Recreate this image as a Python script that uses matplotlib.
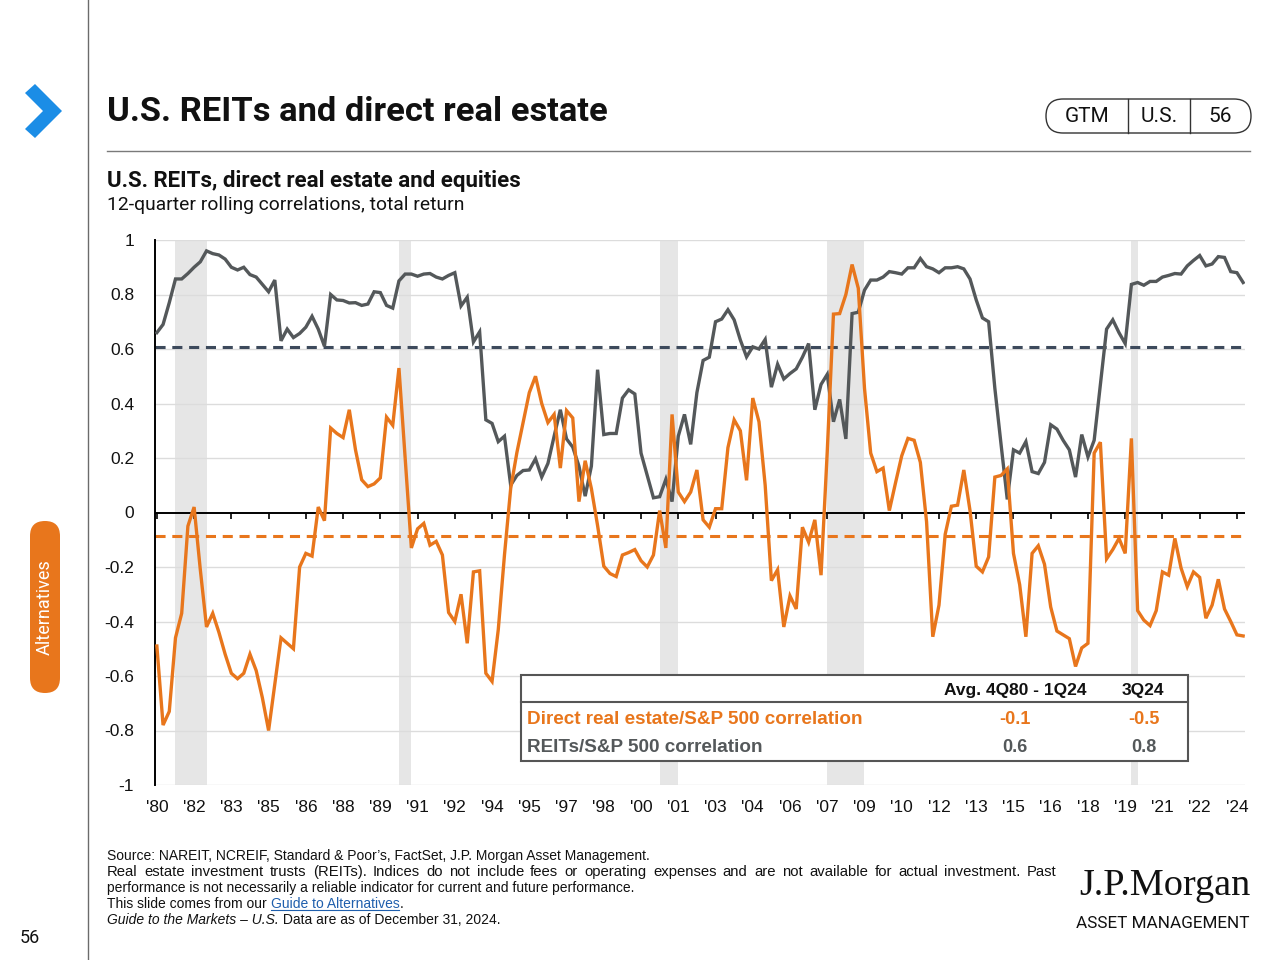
import matplotlib
matplotlib.use("Agg")
import matplotlib.pyplot as plt
from matplotlib.patches import FancyBboxPatch, Rectangle, Polygon
import numpy as np

# ---------------- data ----------------
start_label = "4Q80"
tick_labels = ["'80", "'82", "'83", "'85", "'86", "'88", "'89", "'91", "'92", "'94",
               "'95", "'97", "'98", "'00", "'01", "'03", "'04", "'06", "'07", "'09",
               "'10", "'12", "'13", "'15", "'16", "'18", "'19", "'21", "'22", "'24"]
tick_step = 6  # quarters between labels

reits_sp500 = [
    0.66, 0.69, 0.77, 0.857, 0.857, 0.877, 0.90, 0.92, 0.96, 0.95,
    0.945, 0.93, 0.90, 0.89, 0.90, 0.873, 0.864, 0.837, 0.81, 0.853,
    0.63, 0.673, 0.642, 0.657, 0.68, 0.72, 0.673, 0.61, 0.80, 0.78,
    0.778, 0.769, 0.77, 0.76, 0.765, 0.81, 0.807, 0.76, 0.75, 0.85,
    0.875, 0.875, 0.867, 0.875, 0.877, 0.864, 0.857, 0.87, 0.88, 0.758,
    0.79, 0.626, 0.663, 0.34, 0.327, 0.26, 0.28, 0.10, 0.136, 0.154,
    0.156, 0.197, 0.13, 0.18, 0.28, 0.377, 0.27, 0.24, 0.17, 0.06,
    0.17, 0.524, 0.286, 0.29, 0.29, 0.42, 0.45, 0.435, 0.218, 0.136,
    0.054, 0.058, 0.122, 0.04, 0.28,
    0.36, 0.25, 0.44, 0.558, 0.57, 0.70, 0.71, 0.744, 0.707, 0.633,
    0.571, 0.608, 0.60, 0.635, 0.46, 0.544, 0.49, 0.51, 0.527, 0.57,
    0.62, 0.377, 0.47, 0.507, 0.333, 0.415, 0.27, 0.73, 0.735, 0.816,
    0.853, 0.853, 0.864, 0.884, 0.88, 0.875, 0.898, 0.898, 0.932, 0.902,
    0.894, 0.88, 0.898, 0.898, 0.902,
    0.894, 0.857, 0.78, 0.714, 0.70, 0.456, 0.25, 0.048, 0.23, 0.218,
    0.26, 0.15, 0.143, 0.184, 0.322, 0.306, 0.265, 0.23, 0.13, 0.286,
    0.204, 0.265, 0.47, 0.673, 0.707, 0.66, 0.62, 0.837, 0.844, 0.834,
    0.848, 0.848, 0.864, 0.87, 0.877, 0.875, 0.905, 0.925, 0.943, 0.905,
    0.912, 0.939, 0.936, 0.884, 0.88, 0.844,
]

direct_re_sp500 = [
    -0.49, -0.78, -0.73, -0.46, -0.37, -0.05, 0.02, -0.21, -0.42, -0.37,
    -0.44, -0.52, -0.59, -0.61, -0.59, -0.52, -0.58, -0.68, -0.80, -0.63,
    -0.46, -0.48, -0.50, -0.20, -0.15, -0.16, 0.02, -0.03, 0.31, 0.29,
    0.275, 0.377, 0.23, 0.12, 0.095, 0.105, 0.127, 0.35, 0.32, 0.53,
    0.20, -0.13, -0.06, -0.04, -0.12, -0.106, -0.156, -0.367, -0.40, -0.30,
    -0.48, -0.218, -0.214, -0.59, -0.62, -0.43, -0.156, 0.088, 0.22, 0.33,
    0.44, 0.50, 0.40, 0.33, 0.36, 0.163, 0.374, 0.347, 0.04, 0.19,
    0.088, -0.048, -0.197, -0.224, -0.235, -0.156, -0.147, -0.136, -0.177, -0.20,
    -0.156, 0.007, -0.13, 0.36, 0.075,
    0.04, 0.075, 0.156, -0.027, -0.054, 0.014, 0.014, 0.238, 0.34, 0.30,
    0.118, 0.42, 0.333, 0.10, -0.25, -0.21, -0.42, -0.306, -0.354, -0.054,
    -0.109, -0.027, -0.23, 0.224, 0.728, 0.73, 0.80, 0.91, 0.823, 0.456,
    0.218, 0.15, 0.163, 0.007, 0.109, 0.208, 0.272, 0.265, 0.184, -0.034,
    -0.456, -0.34, -0.08, 0.023, 0.027,
    0.156, 0.007, -0.197, -0.218, -0.163, 0.13, 0.136, 0.16, -0.15, -0.265,
    -0.456, -0.15, -0.122, -0.19, -0.347, -0.435, -0.449, -0.463, -0.565, -0.497,
    -0.48, 0.218, 0.258, -0.17, -0.136, -0.095, -0.15, 0.272, -0.36, -0.395,
    -0.415, -0.36, -0.218, -0.23, -0.095, -0.204, -0.272, -0.218, -0.238, -0.388,
    -0.34, -0.245, -0.354, -0.40, -0.449, -0.453,
]

reits_avg = 0.607
direct_re_avg = -0.086

# recessions as (start quarter index, end quarter index) from 4Q80
recession_starts = [3, 39, 81, 108, 157]
recession_ends = [8, 41, 84, 114, 158]

y_ticks = [1, 0.8, 0.6, 0.4, 0.2, 0, -0.2, -0.4, -0.6, -0.8, -1]
y_tick_labels = ["1", "0.8", "0.6", "0.4", "0.2", "0", "-0.2", "-0.4", "-0.6", "-0.8", "-1"]

table_header = ["Avg. 4Q80 - 1Q24", "3Q24"]
table_rows = ["Direct real estate/S&P 500 correlation", "REITs/S&P 500 correlation"]
table_avg = ["-0.1", "0.6"]
table_latest = ["-0.5", "0.8"]

# ---------------- style ----------------
ORANGE = "#E8761C"
GRAY = "#54585A"
DASH_GRAY = "#3D4A5C"
BLUE = "#1B8DE6"
FONT = "Liberation Sans"
ROBOTO = ["Roboto", "DejaVu Sans"]

plt.rcParams["font.family"] = [FONT, "DejaVu Sans"]

fig = plt.figure(figsize=(12.8, 9.6), dpi=100)

# background overlay in pixel coordinates
bg = fig.add_axes([0, 0, 1, 1])
bg.set_xlim(0, 1280)
bg.set_ylim(960, 0)
bg.axis("off")
bg.set_zorder(0)

# left vertical rule
bg.plot([88, 88], [0, 960], color="#6b6b6b", lw=1.0)
# chevron
bg.add_patch(Polygon([(25, 93), (35, 84), (62, 111), (35, 138), (25, 129), (43, 111)],
                     closed=True, color=BLUE, lw=0))
# title
bg.text(107, 112, "U.S. REITs and direct real estate", fontsize=24.8, fontweight="bold",
        family=ROBOTO, va="center", ha="left", color="#111111")
bg.plot([107, 1250], [151, 151], color="#7a7a7a", lw=1.0)

# badge
bg.add_patch(FancyBboxPatch((1046, 99), 205, 34, boxstyle="round,pad=0,rounding_size=17",
                            fc="white", ec="#333333", lw=1.0))
bg.plot([1128, 1128], [99, 133], color="#333333", lw=1.0)
bg.plot([1190, 1190], [99, 133], color="#333333", lw=1.0)
for txt, cx in zip(["GTM", "U.S.", "56"], [1087, 1159, 1220]):
    bg.text(cx, 117, txt, fontsize=15, ha="center", va="center",
            family=ROBOTO, color="#111111")

# subtitles
bg.text(107, 181, "U.S. REITs, direct real estate and equities", fontsize=16, fontweight="bold",
        family=ROBOTO, va="center", color="#111111")
bg.text(107, 205, "12-quarter rolling correlations, total return", fontsize=13.9,
        family=ROBOTO, va="center", color="#111111")

# side tab
bg.add_patch(FancyBboxPatch((30, 521), 30, 172, boxstyle="round,pad=0,rounding_size=15",
                            fc=ORANGE, ec="none"))
bg.text(45, 607, "Alternatives", rotation=90, color="white", fontsize=13,
        family=ROBOTO, ha="center", va="center")
bg.text(30, 938, "56", fontsize=13, ha="center", va="center",
        family=ROBOTO, color="#111111")

# ---------------- chart ----------------
n = len(reits_sp500)
x = np.arange(n)
ax = fig.add_axes([155 / 1280, 1 - 785 / 960, (1245 - 155) / 1280, (785 - 240) / 960])
ax.set_zorder(1)
ax.patch.set_alpha(0)

for s, e in zip(recession_starts, recession_ends):
    ax.axvspan(s, e, color="#E6E6E6", lw=0, zorder=0)

for yv in y_ticks:
    if yv != 0:
        ax.axhline(yv, color="#DCDCDC", lw=1.0, zorder=0.5)

ax.axhline(0, color="black", lw=1.4, zorder=1)
tick_pos = np.arange(0, len(tick_labels)) * tick_step
ax.vlines(tick_pos, -0.025, 0, color="black", lw=1.2, zorder=1)

ax.axhline(reits_avg, color=DASH_GRAY, lw=2.2, linestyle=(0, (3.3, 2.2)), zorder=2)
ax.axhline(direct_re_avg, color=ORANGE, lw=2.2, linestyle=(0, (3.3, 2.2)), zorder=2)

ax.plot(x, reits_sp500, color=GRAY, lw=2.4, zorder=3, solid_joinstyle="miter")
ax.plot(x, direct_re_sp500, color=ORANGE, lw=2.4, zorder=3, solid_joinstyle="miter")

ax.set_xlim(-0.3, n - 1 + 0.3)
ax.set_ylim(-1, 1)
ax.set_yticks(y_ticks)
ax.set_yticklabels(y_tick_labels)
ax.set_xticks(tick_pos)
ax.set_xticklabels(tick_labels)
ax.tick_params(axis="x", length=0, pad=11, labelsize=12.5, colors="#111111")
ax.tick_params(axis="y", length=0, pad=15, labelsize=12.5, colors="#111111")
for sp in ["top", "right", "bottom"]:
    ax.spines[sp].set_visible(False)
ax.spines["left"].set_color("black")
ax.spines["left"].set_linewidth(1.4)

# ---------------- foreground: table + footer ----------------
fg = fig.add_axes([0, 0, 1, 1])
fg.set_xlim(0, 1280)
fg.set_ylim(960, 0)
fg.axis("off")
fg.set_zorder(5)
fg.patch.set_alpha(0)

fg.add_patch(Rectangle((521, 675), 667, 86, fc="white", ec="#555555", lw=1.5))
fg.plot([521, 1188], [702, 702], color="#555555", lw=1.5)
fg.text(1015, 691, table_header[0], fontsize=12.5, fontweight="bold", ha="center", va="center",
        color="#111111")
fg.text(1143, 691, table_header[1], fontsize=12.5, fontweight="bold", ha="center", va="center",
        color="#111111")
row_y = [720, 748]
row_colors = [ORANGE, GRAY]
for ry, lab, a, l, c in zip(row_y, table_rows, table_avg, table_latest, row_colors):
    fg.text(527, ry, lab, fontsize=13.6, fontweight="bold", ha="left", va="center", color=c)
    fg.text(1015, ry, a, fontsize=13, fontweight="bold", ha="center", va="center", color=c)
    fg.text(1144, ry, l, fontsize=13, fontweight="bold", ha="center", va="center", color=c)

foot_fs = 10
fx0 = 107
fg.text(fx0, 856, "Source: NAREIT, NCREIF, Standard & Poor\u2019s, FactSet, J.P. Morgan Asset Management.",
        fontsize=foot_fs, va="center", color="#111111")

# justified second line
line2 = ("Real estate investment trusts (REITs). Indices do not include fees or operating expenses "
         "and are not available for actual investment. Past")
line2_fs = 10.7
words = line2.split()
renderer = fig.canvas.get_renderer()
widths = []
for w in words:
    tmp = fg.text(0, 0, w, fontsize=line2_fs)
    widths.append(tmp.get_window_extent(renderer=renderer).width)
    tmp.remove()
target_w = 1057 - fx0
gap = (target_w - sum(widths)) / (len(words) - 1)
xp = fx0
for w, wd in zip(words, widths):
    fg.text(xp, 872, w, fontsize=line2_fs, va="center", color="#111111")
    xp += wd + gap

fg.text(fx0, 888, "performance is not necessarily a reliable indicator for current and future performance.",
        fontsize=foot_fs, va="center", color="#111111")
t1 = fg.text(fx0, 904, "This slide comes from our ", fontsize=foot_fs, va="center", color="#111111")
t2 = fg.annotate("Guide to Alternatives", xy=(1, 0.5), xycoords=t1, va="center", ha="left",
                 fontsize=foot_fs, color="#1F5FAD")
t3 = fg.annotate(".", xy=(1, 0.5), xycoords=t2, va="center", ha="left", fontsize=foot_fs,
                 color="#111111")
t4 = fg.text(fx0, 920, "Guide to the Markets \u2013 U.S.", fontsize=foot_fs, va="center",
             style="italic", color="#111111")
fg.annotate(" Data are as of December 31, 2024.", xy=(1, 0.5), xycoords=t4, va="center",
            ha="left", fontsize=foot_fs, color="#111111")

# underline for link
fig.canvas.draw()
bb = t2.get_window_extent(renderer=fig.canvas.get_renderer())
inv = fg.transData.inverted()
(ux0, uy0), (ux1, uy1) = inv.transform([(bb.x0, bb.y0), (bb.x1, bb.y0)])
fg.plot([ux0, ux1], [uy0 - 1, uy1 - 1], color="#1F5FAD", lw=0.8)

# logo
fg.text(1251, 886, "J.P.Morgan", fontsize=27.5, family=["Liberation Serif", "DejaVu Serif"],
        ha="right", va="center", color="#111111")
fg.text(1250, 924, "ASSET MANAGEMENT", fontsize=12.3, family=ROBOTO,
        ha="right", va="center", color="#111111")

fig.savefig("out.png", dpi=100, facecolor="white")
